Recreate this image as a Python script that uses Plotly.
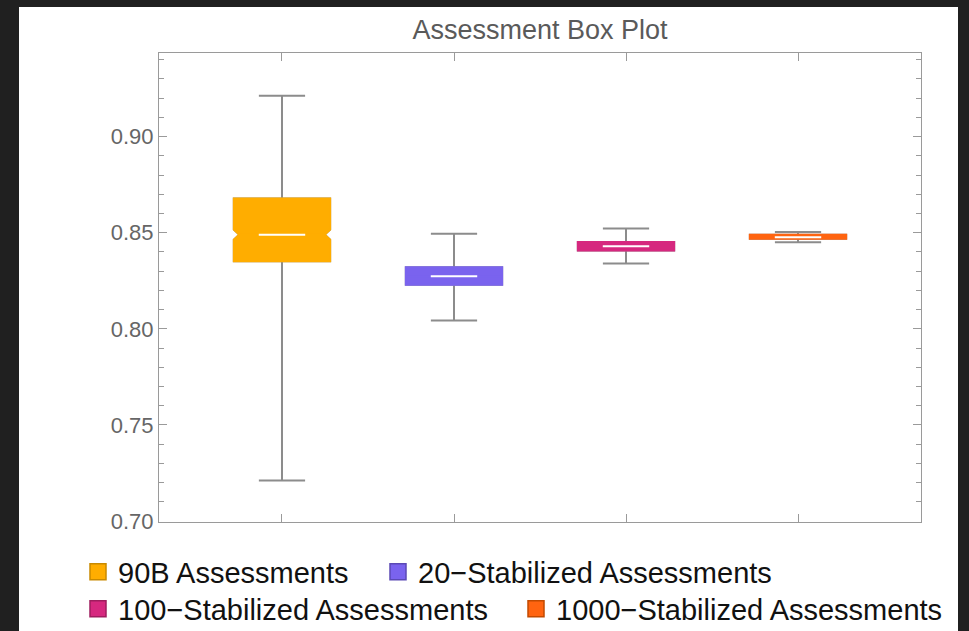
import plotly.graph_objects as go

categories = ["90B Assessments", "20\u2212Stabilized Assessments",
              "100\u2212Stabilized Assessments", "1000\u2212Stabilized Assessments"]
lower_fence = [0.7211, 0.8043, 0.8340, 0.8450]
q1_vals = [0.8352, 0.8229, 0.8407, 0.8468]
median_vals = [0.8490, 0.8274, 0.8430, 0.8477]
q3_vals = [0.8678, 0.8320, 0.8452, 0.8489]
upper_fence = [0.9213, 0.8494, 0.8522, 0.8504]
notched_flags = [True, False, False, False]
notch_spans = [0.0026, 0.0, 0.0, 0.0]

y_ticks = [0.70, 0.75, 0.80, 0.85, 0.90]

fill_colors = ["#FFAD00", "#7A63EE", "#D6287F", "#FF6410"]
edge_colors = ["#C98A00", "#5B49B5", "#9E1D5E", "#C24A00"]
whisker_color = "#8C8C8C"
frame_color = "#9A9A9A"

W, H = 969, 631
L, R, T, B = 159, 48, 53, 109
PW, PH = W - L - R, H - T - B

fig = go.Figure()

for i, cat in enumerate(categories):
    common = dict(x=[cat], width=0.56, hoverinfo="skip", showlegend=False)
    notch = dict(notched=True, notchspan=[notch_spans[i]], notchwidth=0.055) if notched_flags[i] else dict(notched=False)
    # whiskers (gray)
    fig.add_trace(go.Box(q1=[q1_vals[i]], median=[median_vals[i]], q3=[q3_vals[i]],
                         lowerfence=[lower_fence[i]], upperfence=[upper_fence[i]],
                         line=dict(color=whisker_color, width=2), fillcolor="rgba(0,0,0,0)",
                         whiskerwidth=0.48, **notch, **common))
    # box body
    fig.add_trace(go.Box(q1=[q1_vals[i]], median=[median_vals[i]], q3=[q3_vals[i]],
                         lowerfence=[q1_vals[i]], upperfence=[q3_vals[i]],
                         line=dict(color=fill_colors[i], width=2), fillcolor=fill_colors[i],
                         whiskerwidth=0, **notch, **common))
    # white median
    fig.add_trace(go.Box(q1=[median_vals[i]], median=[median_vals[i]], q3=[median_vals[i]],
                         lowerfence=[median_vals[i]], upperfence=[median_vals[i]],
                         line=dict(color="white", width=2), fillcolor="white",
                         whiskerwidth=0, x=[cat], width=0.27, hoverinfo="skip", showlegend=False))

# legend entries
legend_pos = [(78, 572), (378, 572), (78, 609), (516, 609)]
legend_names = ["legend", "legend2", "legend3", "legend4"]
for i, cat in enumerate(categories):
    fig.add_trace(go.Scatter(x=[None], y=[None], mode="markers", name=cat,
                             marker=dict(symbol="square", size=16, color=fill_colors[i],
                                         line=dict(color=edge_colors[i], width=1.5)),
                             legend=legend_names[i], showlegend=True))

legend_font = dict(family="Liberation Sans, Arial, sans-serif", size=29, color="#111111")
legend_layouts = {}
for i, name in enumerate(legend_names):
    px, py = legend_pos[i]
    legend_layouts[name] = dict(x=px / W, y=1 - py / H, xref="container", yref="container",
                                xanchor="left", yanchor="middle", bgcolor="rgba(0,0,0,0)",
                                borderwidth=0, font=legend_font, orientation="h")

fig.update_layout(
    width=W, height=H,
    margin=dict(l=L, r=R, t=T, b=B, pad=0),
    paper_bgcolor="#202020",
    plot_bgcolor="white",
    boxmode="overlay",
    title=dict(text="Assessment Box Plot", x=0.5, xref="paper", xanchor="center",
               y=1 - 30 / H, yref="container", yanchor="middle",
               font=dict(family="Liberation Sans, Arial, sans-serif", size=27, color="#5A5A5A")),
    xaxis=dict(type="category", range=[-0.715, 3.715], showticklabels=False,
               ticks="inside", ticklen=8, tickcolor=frame_color, showline=True,
               linecolor=frame_color, linewidth=1, mirror="ticks", showgrid=False,
               zeroline=False),
    yaxis=dict(range=[0.6995, 0.9435], tickvals=y_ticks, tickformat=".2f",
               ticks="inside", ticklen=8, tickcolor=frame_color, showline=True,
               linecolor=frame_color, linewidth=1, mirror="ticks", showgrid=False,
               zeroline=False,
               tickfont=dict(family="Liberation Sans, Arial, sans-serif", size=22, color="#666666"),
               minor=dict(dtick=0.01, ticks="inside", ticklen=5, tickcolor=frame_color, showgrid=False)),
    shapes=[dict(type="rect", xref="paper", yref="paper",
                 x0=(19 - L) / PW, x1=(958 - L) / PW,
                 y0=(T + PH - H) / PH, y1=(T + PH - 7) / PH,
                 fillcolor="white", line=dict(width=0), layer="below")],
    **legend_layouts,
)

fig.write_html("out.html", config={"displayModeBar": False},
               post_script="document.body.style.margin='0';document.body.style.background='#202020';")
